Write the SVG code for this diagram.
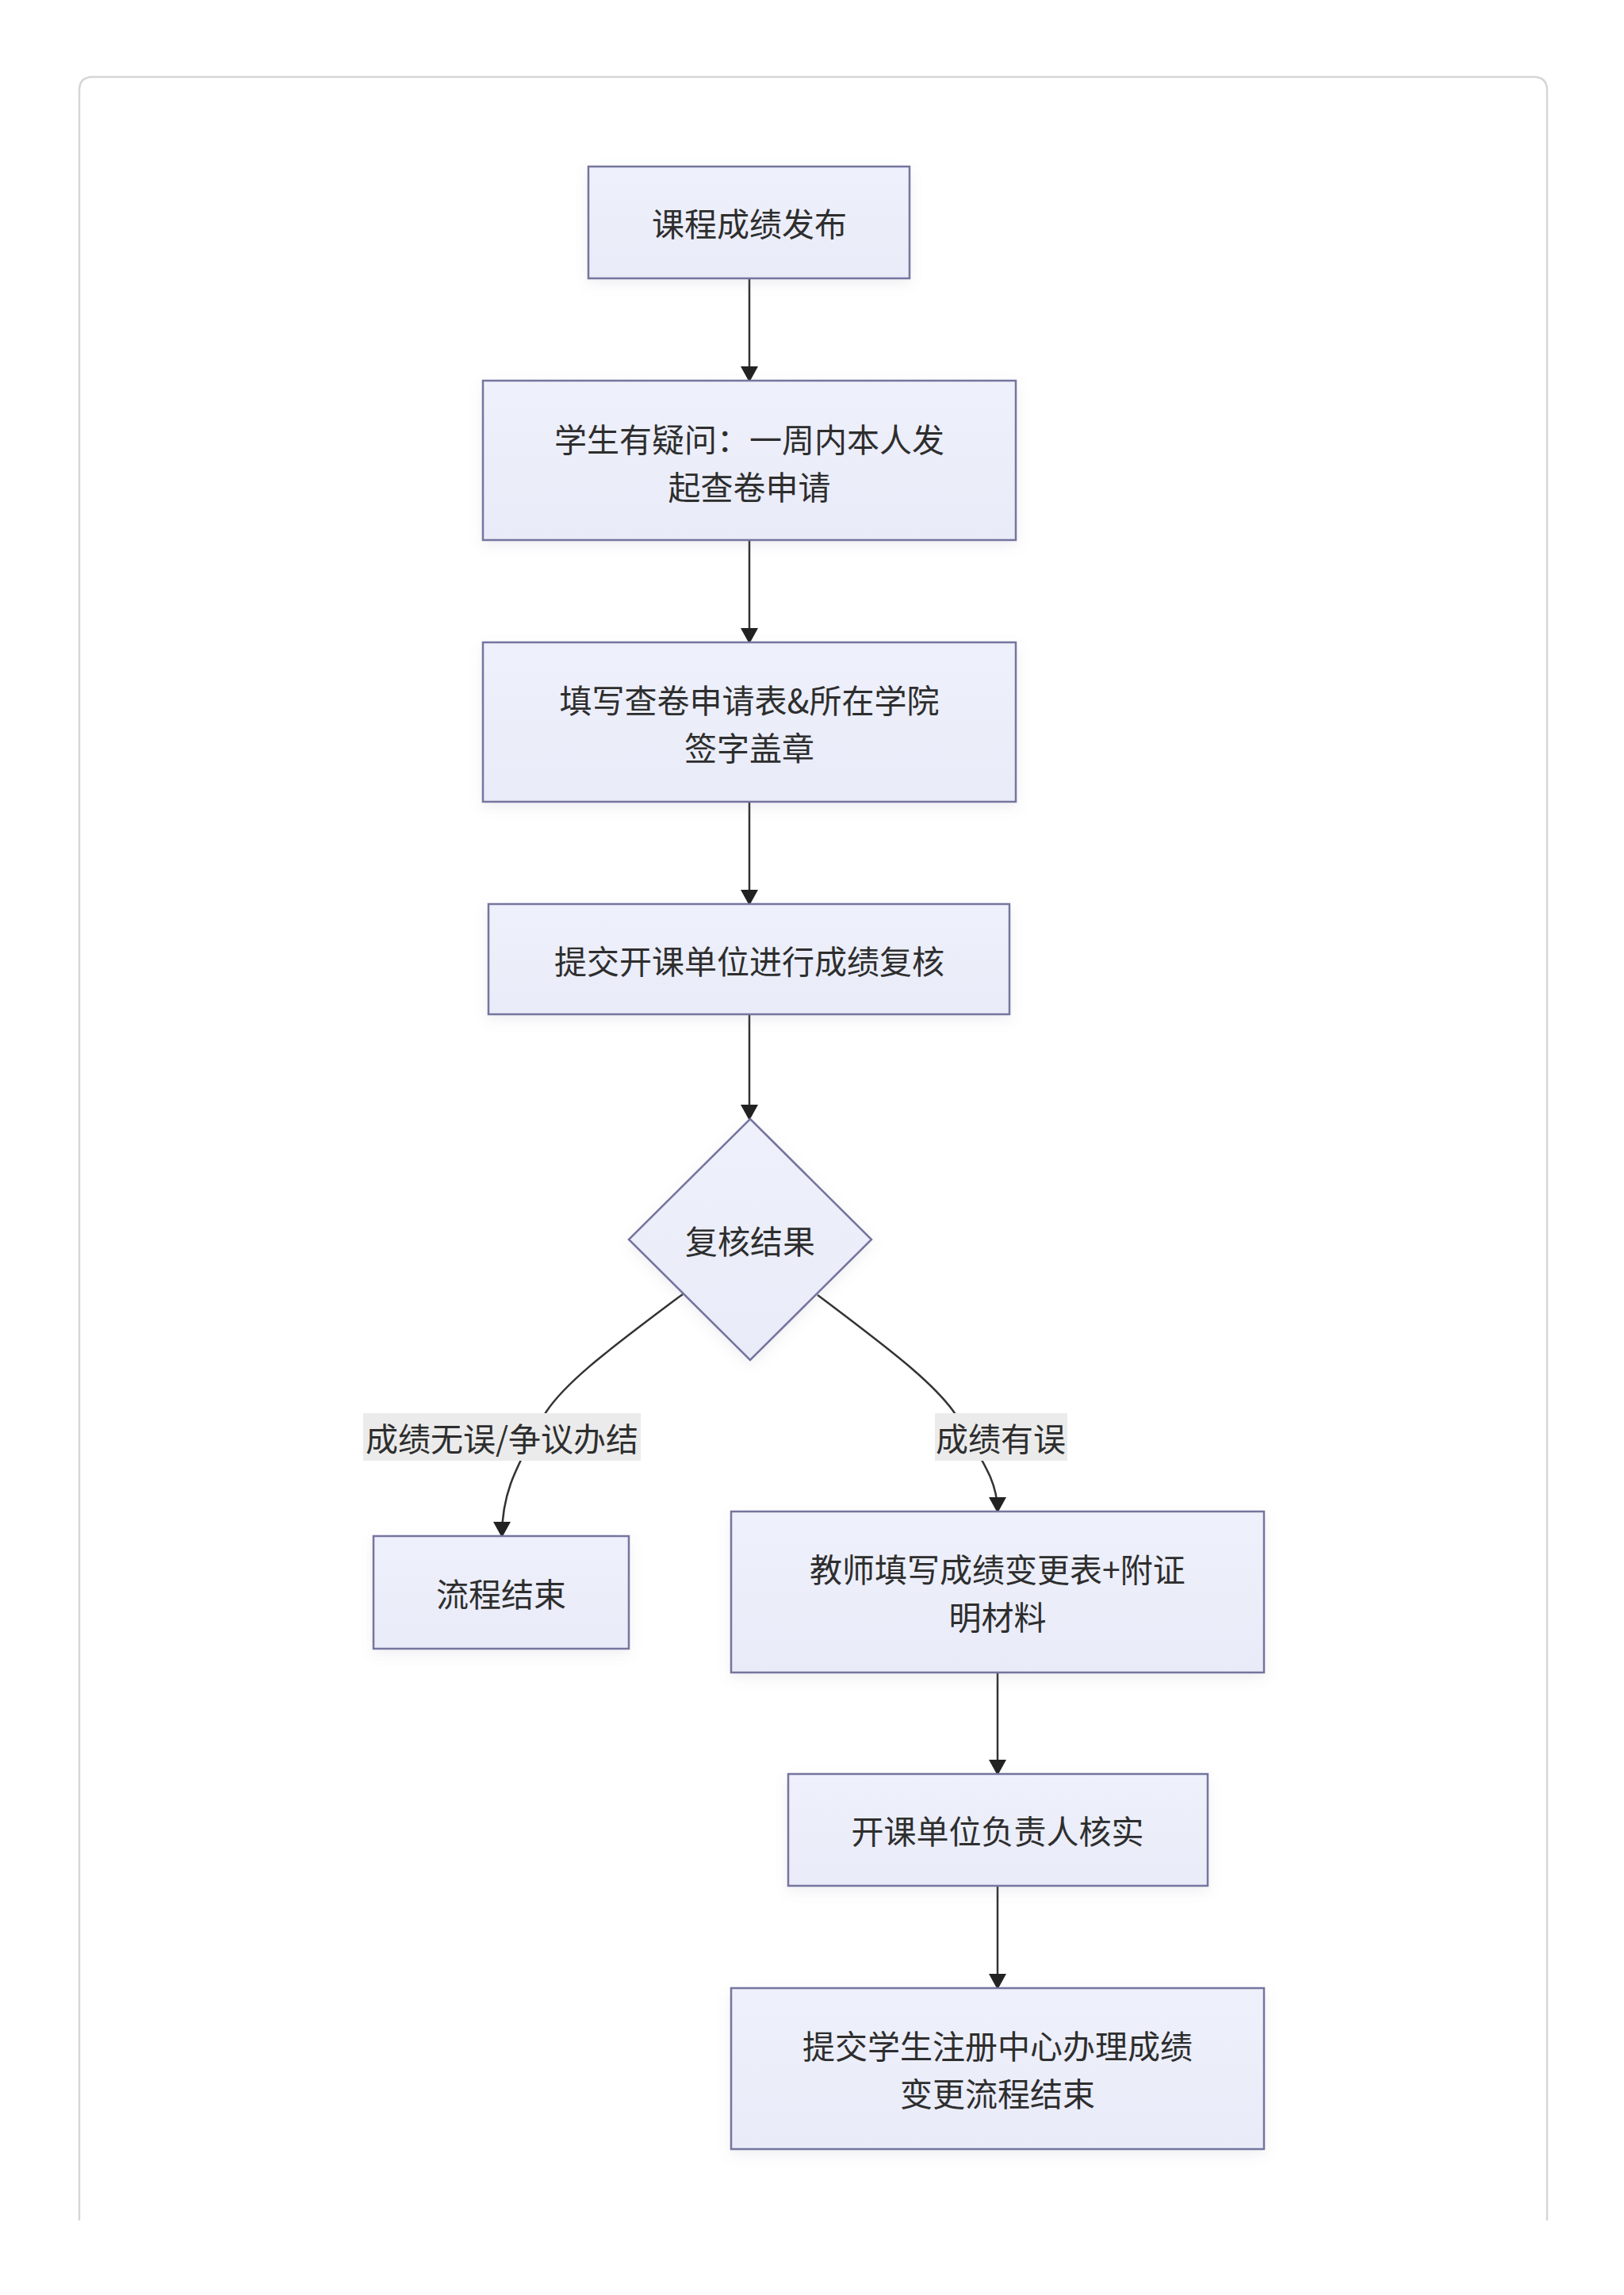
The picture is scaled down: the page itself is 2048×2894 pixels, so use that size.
<svg xmlns="http://www.w3.org/2000/svg" width="2048" height="2894" viewBox="0 0 2048 2894">
  <style>
    .node { fill: url(#nodeFill); stroke: #74749f; stroke-width: 2.5; filter: url(#shadow); }
    .txt { font-family: "Noto Sans CJK SC", "Noto Sans", sans-serif; font-size: 41px; fill: #2e2e2e; text-anchor: middle; dominant-baseline: central; }
    .edge { fill: none; stroke: #333333; stroke-width: 2.5; }
    .lblbg { fill: #ebebeb; }
  </style>
  <defs>
    <linearGradient id="nodeFill" x1="0" y1="0" x2="0" y2="1">
      <stop offset="0" stop-color="#eef0fb"/>
      <stop offset="1" stop-color="#e9ebf8"/>
    </linearGradient>
    <filter id="shadow" x="-20%" y="-20%" width="140%" height="150%">
      <feDropShadow dx="0" dy="6" stdDeviation="8" flood-color="#8080a0" flood-opacity="0.12"/>
    </filter>
    <marker id="arrow" viewBox="0 0 20 22" refX="18" refY="11" markerWidth="20" markerHeight="22" markerUnits="userSpaceOnUse" orient="auto">
      <path d="M0,0 L20,11 L0,22 z" fill="#222222"/>
    </marker>
  </defs>

  <rect x="0" y="0" width="2048" height="2894" fill="#ffffff"/>
  <path id="card" d="M100,2800 L100,114 Q100,97 117,97 L1934,97 Q1951,97 1951,114 L1951,2800" fill="#ffffff" stroke="#d6d6d6" stroke-width="2.5"/>

  <g id="connectors">
    <path class="edge" d="M945,351 L945,480" marker-end="url(#arrow)"/>
    <path class="edge" d="M945,681 L945,810" marker-end="url(#arrow)"/>
    <path class="edge" d="M945,1011 L945,1140" marker-end="url(#arrow)"/>
    <path class="edge" d="M945,1279 L945,1411" marker-end="url(#arrow)"/>
    <path class="edge" d="M861,1632 C770,1700 705,1748 683,1790 C652,1850 633,1880 633,1937" marker-end="url(#arrow)"/>
    <path class="edge" d="M1031,1633 C1120,1700 1190,1752 1212,1795 C1245,1852 1258,1872 1258,1906" marker-end="url(#arrow)"/>
    <path class="edge" d="M1258,2109 L1258,2237" marker-end="url(#arrow)"/>
    <path class="edge" d="M1258,2378 L1258,2507" marker-end="url(#arrow)"/>
    <g id="label-ok">
      <rect class="lblbg" x="458" y="1782" width="350" height="60"/>
      <text class="txt" x="633" y="1812">成绩无误/争议办结</text>
    </g>
    <g id="label-err">
      <rect class="lblbg" x="1179" y="1782" width="167" height="60"/>
      <text class="txt" x="1262" y="1812">成绩有误</text>
    </g>
  </g>

  <g id="n1">
    <rect class="node" x="742" y="210" width="405" height="141"/>
    <text class="txt" x="945" y="280">课程成绩发布</text>
  </g>
  <g id="n2">
    <rect class="node" x="609" y="480" width="672" height="201"/>
    <text class="txt" x="945" y="552">学生有疑问：一周内本人发</text>
    <text class="txt" x="945" y="612">起查卷申请</text>
  </g>
  <g id="n3">
    <rect class="node" x="609" y="810" width="672" height="201"/>
    <text class="txt" x="945" y="881">填写查卷申请表&amp;所在学院</text>
    <text class="txt" x="945" y="941">签字盖章</text>
  </g>
  <g id="n4">
    <rect class="node" x="616" y="1140" width="657" height="139"/>
    <text class="txt" x="945" y="1210">提交开课单位进行成绩复核</text>
  </g>
  <g id="decision">
    <polygon class="node" points="946,1411 1099,1563 946,1715 793,1563"/>
    <text class="txt" x="946" y="1563">复核结果</text>
  </g>
  <g id="end1">
    <rect class="node" x="471" y="1937" width="322" height="142"/>
    <text class="txt" x="632" y="2008">流程结束</text>
  </g>
  <g id="n5">
    <rect class="node" x="922" y="1906" width="672" height="203"/>
    <text class="txt" x="1258" y="1977">教师填写成绩变更表+附证</text>
    <text class="txt" x="1258" y="2037">明材料</text>
  </g>
  <g id="n6">
    <rect class="node" x="994" y="2237" width="529" height="141"/>
    <text class="txt" x="1258" y="2307">开课单位负责人核实</text>
  </g>
  <g id="n7">
    <rect class="node" x="922" y="2507" width="672" height="203"/>
    <text class="txt" x="1258" y="2578">提交学生注册中心办理成绩</text>
    <text class="txt" x="1258" y="2638">变更流程结束</text>
  </g>
</svg>
